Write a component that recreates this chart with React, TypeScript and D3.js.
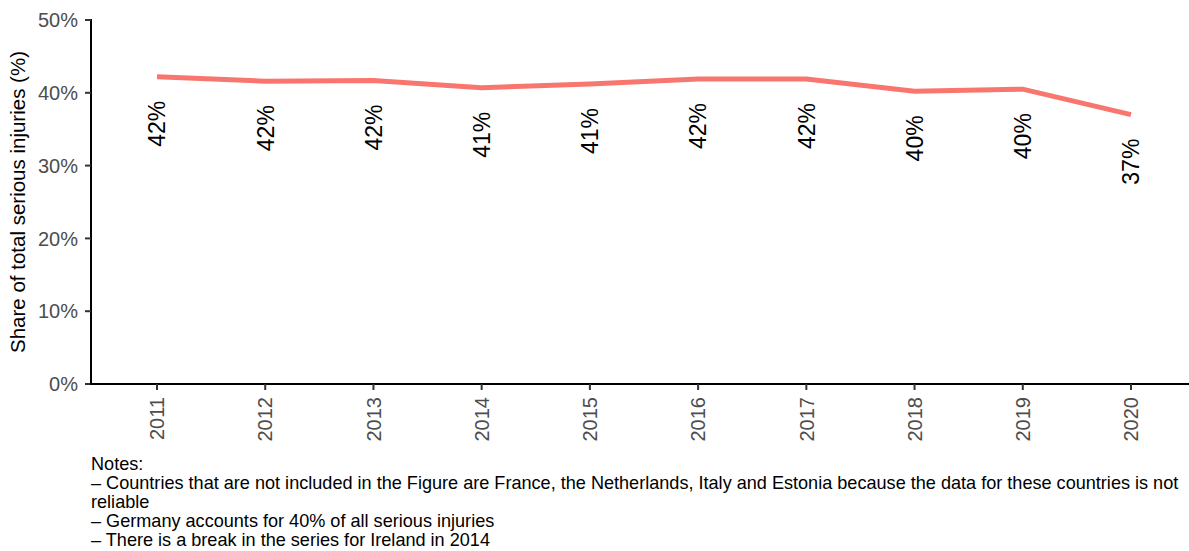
import React from 'react';
import * as d3 from 'd3';

const years = ['2011', '2012', '2013', '2014', '2015', '2016', '2017', '2018', '2019', '2020'];
const shares = [42.2, 41.6, 41.7, 40.7, 41.2, 41.9, 41.9, 40.2, 40.5, 37.0];
const pointLabels = ['42%', '42%', '42%', '41%', '41%', '42%', '42%', '40%', '40%', '37%'];
const yTicks = [0, 10, 20, 30, 40, 50];
const notes = [
  'Notes:',
  '– Countries that are not included in the Figure are France, the Netherlands, Italy and Estonia because the data for these countries is not',
  'reliable',
  '– Germany accounts for 40% of all serious injuries',
  '– There is a break in the series for Ireland in 2014',
];

const W = 1189;
const H = 551;
const font = 'Liberation Sans, Arial, Helvetica, sans-serif';

export default function App() {
  const left = 91;
  const right = 1189;
  const top = 20;
  const bottom = 384;

  // 2011 sits at ~157 and 2020 at ~1131
  const x = d3.scalePoint<string>().domain(years).range([157, 1131]);
  const y = d3.scaleLinear().domain([0, 50]).range([bottom, top]);

  const line = d3.line<number>()
    .x((_, i) => x(years[i]) as number)
    .y(d => y(d));

  return (
    <svg width={W} height={H} style={{ position: 'absolute', left: 0, top: 0, fontFamily: font }}>
      <rect width={W} height={H} fill="#fff" />

      {/* y axis */}
      <line x1={left} x2={left} y1={top - 1} y2={bottom} stroke="#000" strokeWidth={2} />
      {yTicks.map(t => (
        <g key={t}>
          <line x1={left - 6} x2={left} y1={y(t)} y2={y(t)} stroke="#333" strokeWidth={2} />
          <text x={left - 13} y={y(t)} dy="0.36em" textAnchor="end" fontSize={20} fill="#4d4d4d">
            {t}%
          </text>
        </g>
      ))}
      <text
        transform={`translate(25,${(top + bottom) / 2}) rotate(-90)`}
        textAnchor="middle"
        fontSize={20.5}
        fill="#000"
      >
        Share of total serious injuries (%)
      </text>

      {/* x axis */}
      <line x1={left - 1} x2={right} y1={bottom} y2={bottom} stroke="#000" strokeWidth={2} />
      {years.map(yr => (
        <g key={yr}>
          <line x1={x(yr)} x2={x(yr)} y1={bottom} y2={bottom + 6} stroke="#333" strokeWidth={2} />
          <text
            transform={`translate(${(x(yr) as number)},${bottom + 13}) rotate(-90)`}
            textAnchor="end"
            dy="0.36em"
            fontSize={20}
            fill="#4d4d4d"
          >
            {yr}
          </text>
        </g>
      ))}

      {/* series */}
      <path d={line(shares) || ''} fill="none" stroke="#F8766D" strokeWidth={5} />
      {shares.map((v, i) => (
        <text
          key={years[i]}
          transform={`translate(${x(years[i]) as number},${y(v) + 24}) rotate(-90)`}
          textAnchor="end"
          dy="0.36em"
          fontSize={23}
          fill="#000"
        >
          {pointLabels[i]}
        </text>
      ))}

      {/* notes */}
      {notes.map((n, i) => (
        <text key={i} x={left} y={470 + i * 19.1} fontSize={18.1} fill="#000">
          {n}
        </text>
      ))}
    </svg>
  );
}
